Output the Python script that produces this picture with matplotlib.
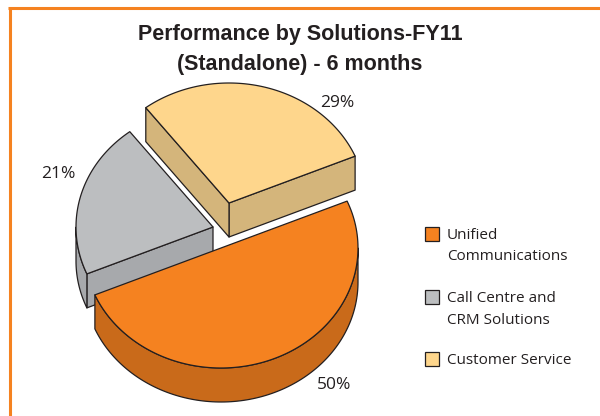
#!/usr/bin/env python

"""Exploded 3D pie: Performance by Solutions-FY11 (Standalone) - 6 months."""

import numpy
import matplotlib
matplotlib.use("Agg")
import matplotlib.pyplot as plt
from matplotlib.patches import Polygon, Rectangle

# Data
categories = ["Unified\nCommunications", "Call Centre and\nCRM Solutions",
              "Customer Service"]
shares = [50, 21, 29]
pct_labels = ["50%", "21%", "29%"]
title_lines = ["Performance by Solutions-FY11", "(Standalone) - 6 months"]

# Styles (pixel space, y grows downwards)
top_colors = ["#F58220", "#BCBEC0", "#FED68C"]
side_colors = ["#C96A1A", "#A7A9AC", "#D4B57B"]
edge_color = "#231F20"
border_color = "#F58220"
center = (220.0, 232.0)
rx, ry, depth = 137.0, 120.0, 34.0
start_angle = 23.0
offsets = [(1.0, 16.0), (-7.0, -5.0), (9.0, -29.0)]
label_pos = [(334, 385), (58, 174), (337, 103)]
draw_order = [2, 1, 0]


def arc(cx, cy, t0, t1, n=120):
    t = numpy.radians(numpy.linspace(t0, t1, n))
    return cx + rx * numpy.cos(t), cy - ry * numpy.sin(t)


fig = plt.figure(figsize=(6.0, 4.16), dpi=100)
ax = fig.add_axes([0, 0, 1, 1])
ax.set_xlim(0, 600)
ax.set_ylim(416, 0)
ax.axis("off")

# slice angle ranges, clockwise from start angle
bounds = start_angle - 3.6 * numpy.concatenate([[0], numpy.cumsum(shares)])

for i in draw_order:
    t_hi, t_lo = bounds[i], bounds[i + 1]
    cx = center[0] + offsets[i][0]
    cy = center[1] + offsets[i][1]
    kw = dict(edgecolor=edge_color, linewidth=0.9, joinstyle="round")

    # radial faces (start edge t_lo faces t_lo-90, end edge t_hi faces t_hi+90)
    for t, normal in ((t_lo, t_lo - 90), (t_hi, t_hi + 90)):
        if numpy.sin(numpy.radians(normal)) < 0:
            ex = cx + rx * numpy.cos(numpy.radians(t))
            ey = cy - ry * numpy.sin(numpy.radians(t))
            face = [(cx, cy), (ex, ey), (ex, ey + depth), (cx, cy + depth)]
            ax.add_patch(Polygon(face, closed=True, facecolor=side_colors[i], **kw))

    # curved outer side, only the front half is visible
    ts = numpy.linspace(t_lo, t_hi, 400)
    front = numpy.sin(numpy.radians(ts)) <= 0
    if front.any():
        idx = numpy.where(front)[0]
        runs = numpy.split(idx, numpy.where(numpy.diff(idx) > 1)[0] + 1)
        for run in runs:
            xs, ys = arc(cx, cy, ts[run[0]], ts[run[-1]])
            pts = list(zip(xs, ys)) + list(zip(xs[::-1], ys[::-1] + depth))
            ax.add_patch(Polygon(pts, closed=True, facecolor=side_colors[i], **kw))

    # top face
    xs, ys = arc(cx, cy, t_lo, t_hi)
    pts = [(cx, cy)] + list(zip(xs, ys))
    ax.add_patch(Polygon(pts, closed=True, facecolor=top_colors[i], **kw))

# percentage labels
for i, txt in enumerate(pct_labels):
    ax.text(label_pos[i][0], label_pos[i][1], txt, ha="center", va="center",
            fontsize=12.5, family="Open Sans", color="#231F20")

# legend
legend_y = [234, 297, 359]
for i, name in enumerate(categories):
    ax.add_patch(Rectangle((425, legend_y[i] - 7), 14, 14, facecolor=top_colors[i],
                           edgecolor=edge_color, linewidth=0.9))
    for k, line in enumerate(name.split("\n")):
        ax.text(447, legend_y[i] + 5 + 21.5 * k, line, ha="left", va="baseline",
                fontsize=11, family="Open Sans", color="#231F20")

# title
for k, line in enumerate(title_lines):
    ax.text(300, 40 + 30 * k, line, ha="center", va="baseline",
            fontsize=15.5, fontweight="bold", family="Liberation Sans",
            color="#231F20")

# orange frame on top and left
ax.plot([8, 600], [7.5, 7.5], color=border_color, linewidth=2.2,
        solid_capstyle="butt")
ax.plot([9.5, 9.5], [6.5, 416], color=border_color, linewidth=2.2,
        solid_capstyle="butt")

fig.savefig("out.png", dpi=100)
